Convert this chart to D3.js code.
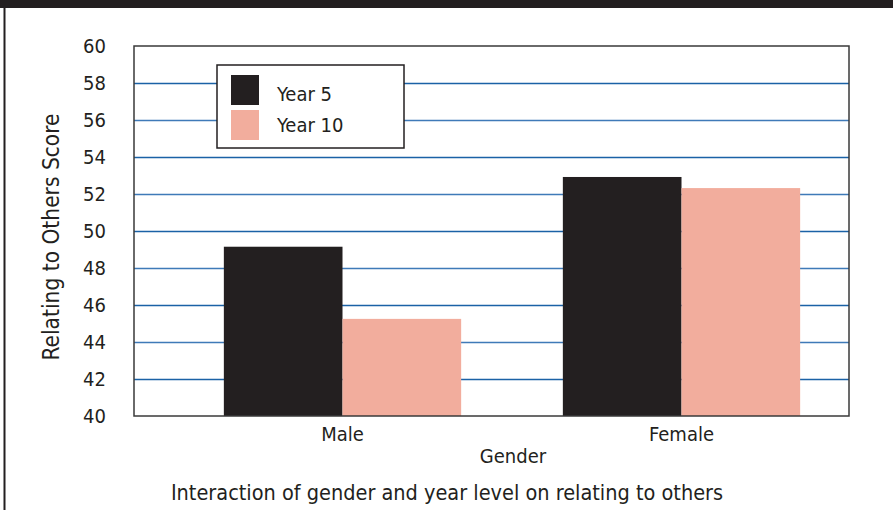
<!DOCTYPE html>
<html>
<head>
<meta charset="utf-8">
<script src="https://d3js.org/d3.v7.min.js"></script>
<style>
  body { margin: 0; background: #fff; }
  svg text { font-family: "DejaVu Sans Condensed", "Liberation Sans Narrow", "Liberation Sans", sans-serif; fill: #231f20; }
</style>
</head>
<body>
<svg id="svg" width="893" height="510"></svg>
<script>
// data
var genders = ["Male", "Female"];
var years = ["Year 5", "Year 10"];
var year5 = [49.15, 52.92];
var year10 = [45.25, 52.32];
var yTicks = [40, 42, 44, 46, 48, 50, 52, 54, 56, 58, 60];
var colors = ["#231f20", "#f2ad9d"];

var svg = d3.select("#svg");

// page frame: dark strip on top, thin rule on the left
svg.append("rect").attr("x", 0).attr("y", 0).attr("width", 893).attr("height", 8).style("fill", "#231f20");
svg.append("line").attr("x1", 4.5).attr("x2", 4.5).attr("y1", 8).attr("y2", 510)
  .style("stroke", "#231f20").style("stroke-width", 2);

var plotLeft = 134, plotRight = 849, plotTop = 46, plotBottom = 416;

var y = d3.scaleLinear().domain([40, 60]).range([plotBottom, plotTop]);
var x = d3.scaleBand().domain(genders).range([173, 851]).paddingInner(0.3).paddingOuter(0.15);
var xs = d3.scaleBand().domain(years).range([0, x.bandwidth()]);

// grid lines (alternating slightly darker / lighter blue as in the print)
svg.append("g").selectAll("line")
  .data(yTicks.filter(function(d) { return d > 40 && d < 60; }))
  .enter().append("line")
  .attr("x1", plotLeft).attr("x2", plotRight)
  .attr("y1", function(d) { return Math.round(y(d)) + 0.5; })
  .attr("y2", function(d) { return Math.round(y(d)) + 0.5; })
  .style("stroke", function(d, i) { return i % 2 ? "#3f7ab8" : "#1b62a6"; })
  .style("stroke-width", 1.5);

// bars
var rows = genders.map(function(g, i) { return {gender: g, values: [year5[i], year10[i]]}; });
var groups = svg.append("g").selectAll("g").data(rows).enter().append("g")
  .attr("transform", function(d) { return "translate(" + x(d.gender) + ",0)"; });
groups.selectAll("rect")
  .data(function(d) { return d.values.map(function(v, j) { return {year: years[j], value: v, color: colors[j]}; }); })
  .enter().append("rect")
  .attr("x", function(d) { return xs(d.year); })
  .attr("width", xs.bandwidth())
  .attr("y", function(d) { return y(d.value); })
  .attr("height", function(d) { return plotBottom - y(d.value); })
  .style("fill", function(d) { return d.color; });

// plot frame
svg.append("rect").attr("x", plotLeft).attr("y", plotTop)
  .attr("width", plotRight - plotLeft).attr("height", plotBottom - plotTop)
  .style("fill", "none").style("stroke", "#3a3a3a").style("stroke-width", 1.5);

// y axis labels
svg.append("g").selectAll("text").data(yTicks).enter().append("text")
  .attr("x", 106).attr("y", function(d) { return y(d) + 7; })
  .style("text-anchor", "end").style("font-size", "20px")
  .text(function(d) { return d; });

svg.append("text")
  .attr("transform", "translate(59," + ((plotTop + plotBottom) / 2 + 6) + ")rotate(-90)")
  .style("text-anchor", "middle").style("font-size", "22.5px")
  .text("Relating to Others Score");

// x axis labels
svg.append("g").selectAll("text").data(genders).enter().append("text")
  .attr("x", function(d) { return x(d) + x.bandwidth() / 2; })
  .attr("y", 441)
  .style("text-anchor", "middle").style("font-size", "20px")
  .text(function(d) { return d; });

svg.append("text").attr("x", 513).attr("y", 463)
  .style("text-anchor", "middle").style("font-size", "20px").text("Gender");

svg.append("text").attr("x", 447).attr("y", 500)
  .style("text-anchor", "middle").style("font-size", "21.5px")
  .text("Interaction of gender and year level on relating to others");

// legend
var lg = svg.append("g").attr("transform", "translate(217,65)");
lg.append("rect").attr("width", 187).attr("height", 83)
  .style("fill", "#fff").style("stroke", "#231f20").style("stroke-width", 1.5);
years.forEach(function(name, i) {
  lg.append("rect").attr("x", 14).attr("y", 10 + 35 * i).attr("width", 28).attr("height", 30)
    .style("fill", colors[i]);
  lg.append("text").attr("x", 60).attr("y", 36 + 31 * i)
    .style("font-size", "20px").text(name);
});
</script>
</body>
</html>
